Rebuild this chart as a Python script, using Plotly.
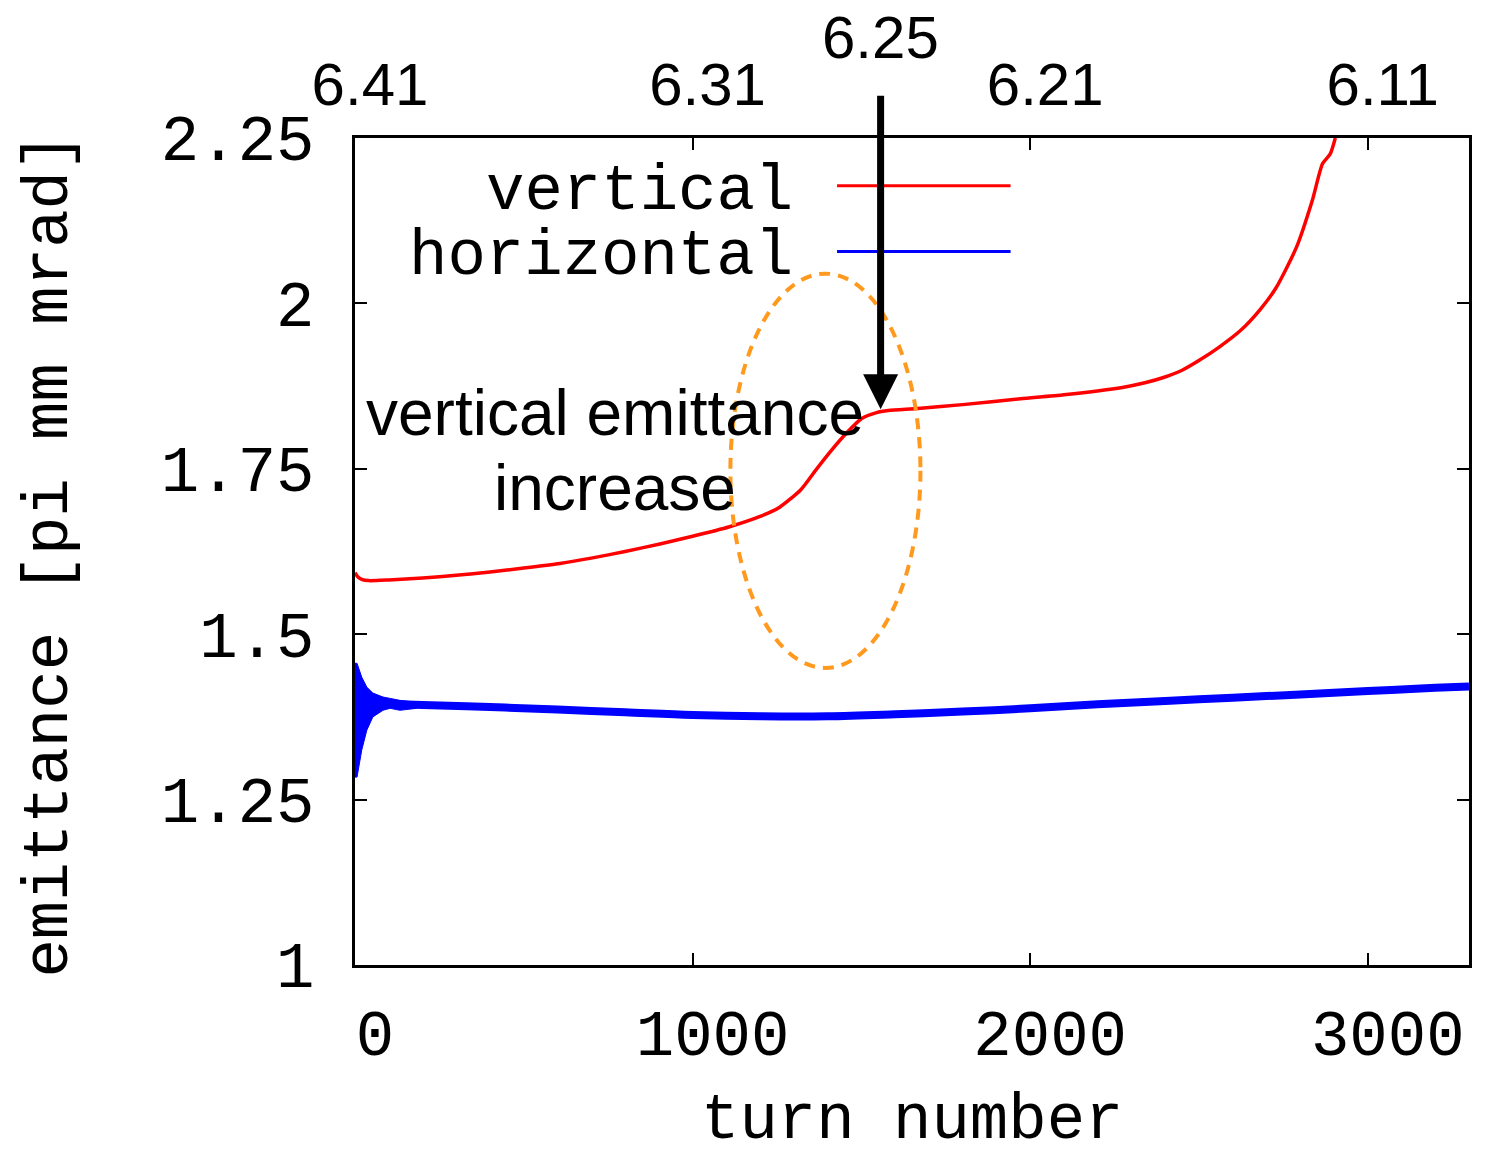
import plotly.graph_objects as go

# --- data -------------------------------------------------------------
# vertical emittance vs turn number
vert_turn = [0, 8, 20, 40, 100, 200, 300, 400, 500, 607, 700, 800, 900, 1000,
             1107, 1200, 1258, 1320, 1365, 1410, 1456, 1501, 1545, 1580, 1667,
             1800, 1972, 2100, 2273, 2340, 2395, 2450, 2501, 2560, 2623, 2680,
             2729, 2789, 2836, 2866, 2889, 2904]
vert_emit = [1.593, 1.587, 1.583, 1.581, 1.582, 1.585, 1.589, 1.594, 1.600,
             1.607, 1.615, 1.625, 1.636, 1.648, 1.662, 1.678, 1.692, 1.718,
             1.748, 1.777, 1.804, 1.826, 1.835, 1.838, 1.841, 1.847, 1.856,
             1.862, 1.873, 1.880, 1.888, 1.899, 1.914, 1.934, 1.959, 1.990,
             2.024, 2.085, 2.156, 2.211, 2.226, 2.250]

# horizontal emittance: centre line
horiz_turn = [0, 120, 200, 400, 600, 800, 1000, 1200, 1400, 1600, 1800, 2000,
              2200, 2400, 2600, 2800, 3000, 3200, 3300]
horiz_emit = [1.395, 1.394, 1.393, 1.390, 1.386, 1.382, 1.378, 1.376, 1.376,
              1.379, 1.383, 1.388, 1.394, 1.399, 1.404, 1.409, 1.414, 1.419,
              1.421]

# horizontal emittance: oscillation envelope over the first turns
env_turn = [0, 6, 20, 35, 53, 83, 104, 133, 183]
env_high = [1.456, 1.456, 1.435, 1.420, 1.411, 1.405, 1.403, 1.400, 1.397]
env_low = [1.284, 1.284, 1.325, 1.355, 1.375, 1.385, 1.388, 1.385, 1.388]

# axis ticks
x_ticks = [0, 1000, 2000, 3000]
y_ticks = [1, 1.25, 1.5, 1.75, 2, 2.25]
y_tick_text = ["1", "1.25", "1.5", "1.75", "2", "2.25"]
tune_text = ["6.41", "6.31", "6.21", "6.11"]

# marked tune
mark_turn = 1557
mark_emit = 1.840
mark_label = "6.25"

MONO = "Liberation Mono"
SANS = "Liberation Sans"
RED = "#ff0000"
BLUE = "#0000ff"

fig = go.Figure()

fig.add_trace(go.Scatter(x=env_turn, y=env_high, mode="lines",
                         line=dict(color=BLUE, width=1), showlegend=False,
                         hoverinfo="skip"))
fig.add_trace(go.Scatter(x=env_turn, y=env_low, mode="lines",
                         line=dict(color=BLUE, width=1), fill="tonexty",
                         fillcolor=BLUE, showlegend=False, hoverinfo="skip"))
fig.add_trace(go.Scatter(x=horiz_turn, y=horiz_emit, mode="lines",
                         line=dict(color=BLUE, width=8, shape="spline"),
                         name="horizontal", showlegend=False))
fig.add_trace(go.Scatter(x=vert_turn, y=vert_emit, mode="lines",
                         line=dict(color=RED, width=3.5, shape="spline",
                                   smoothing=0.6),
                         name="vertical", showlegend=False))

# tune axis on top
fig.add_trace(go.Scatter(x=[0], y=[1], xaxis="x2", mode="markers",
                         marker=dict(opacity=0), showlegend=False,
                         hoverinfo="skip"))

# emittance-growth region
fig.add_shape(type="circle", xref="x", yref="y", x0=1112, x1=1675,
              y0=1.449, y1=2.045,
              line=dict(color="#ff9a1f", width=4, dash="11px,8px"))

# hand-drawn legend: text on the left, line sample on the right
legend_items = [("vertical", RED, 2.178), ("horizontal", BLUE, 2.0785)]
for label, color, yy in legend_items:
    fig.add_shape(type="line", xref="x", yref="y", x0=1428, x1=1942,
                  y0=yy, y1=yy, line=dict(color=color, width=3))
    fig.add_annotation(x=1302, y=yy, xref="x", yref="y", text=label,
                       showarrow=False, xanchor="right", yanchor="middle",
                       yshift=-6,
                       font=dict(family=MONO, size=64, color="black"))

# arrow marking the tune crossing
fig.add_annotation(x=mark_turn, y=mark_emit, xref="x", yref="y", text="",
                   showarrow=True, ax=0, ay=-315, arrowhead=2,
                   arrowsize=1.0, arrowwidth=7, arrowcolor="black")
fig.add_annotation(x=mark_turn, y=1.122, xref="x", yref="paper",
                   text=mark_label, showarrow=False, yanchor="middle",
                   font=dict(family=SANS, size=60, color="black"))

fig.add_annotation(x=770, y=1.834, xref="x", yref="y",
                   text="vertical emittance", showarrow=False,
                   xanchor="center", yanchor="middle",
                   font=dict(family=SANS, size=64, color="black"))
fig.add_annotation(x=770, y=1.7205, xref="x", yref="y",
                   text="increase", showarrow=False,
                   xanchor="center", yanchor="middle",
                   font=dict(family=SANS, size=64, color="black"))

# axis titles
fig.add_annotation(x=-0.274, y=0.496, xref="paper", yref="paper",
                   text="emittance [pi mm mrad]", textangle=-90,
                   showarrow=False, xanchor="center", yanchor="middle",
                   font=dict(family=MONO, size=64, color="black"))
fig.add_annotation(x=0.5, y=-0.2346, xref="paper", yref="paper",
                   text="turn number", showarrow=False,
                   xanchor="center", yanchor="bottom",
                   font=dict(family=MONO, size=64, color="black"))

fig.update_layout(
    width=1490, height=1159,
    margin=dict(l=355, r=21, t=138, b=194),
    paper_bgcolor="white", plot_bgcolor="white",
    xaxis=dict(range=[0, 3300], tickvals=x_ticks,
               ticks="inside", ticklen=12, tickwidth=2, tickcolor="black",
               showline=True, linewidth=2.5, linecolor="black", mirror="ticks",
               showgrid=False, zeroline=False,
               tickfont=dict(family=MONO, size=64, color="black"),
               ticklabelshift=20, ticklabelstandoff=10),
    xaxis2=dict(range=[0, 3300], overlaying="x", side="top", anchor="y",
                tickvals=x_ticks, ticktext=tune_text, ticks="",
                showline=False, showgrid=False, zeroline=False,
                tickfont=dict(family=SANS, size=60, color="black"),
                ticklabelshift=15, ticklabelstandoff=20),
    yaxis=dict(range=[1, 2.25], tickvals=y_ticks, ticktext=y_tick_text,
               ticks="inside", ticklen=12, tickwidth=2, tickcolor="black",
               showline=True, linewidth=2.5, linecolor="black", mirror="ticks",
               showgrid=False, zeroline=False,
               tickfont=dict(family=MONO, size=64, color="black"),
               ticklabelstandoff=25),
    showlegend=False,
)

fig.write_html("out.html")
